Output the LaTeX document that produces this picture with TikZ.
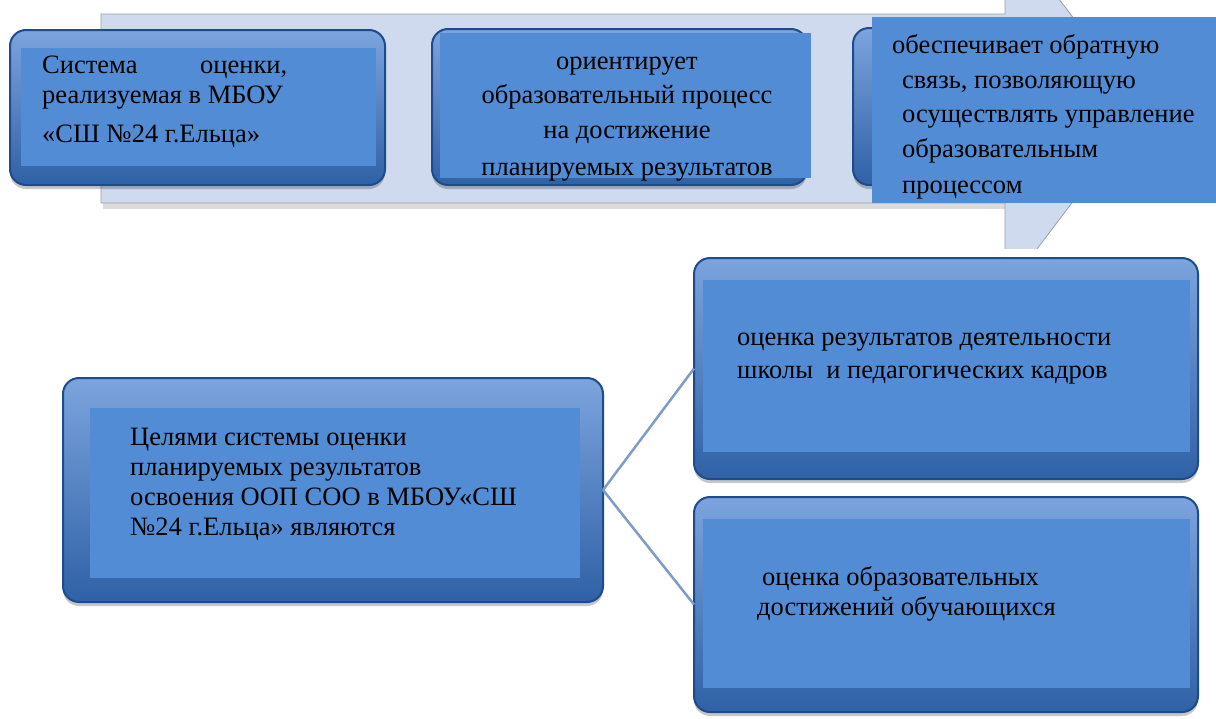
\documentclass[tikz,border=0pt]{standalone}
\usepackage{fontspec}
\setmainfont{Liberation Serif}
\usetikzlibrary{shadows}
\definecolor{boxtop}{HTML}{7CA4DE}
\definecolor{boxbot}{HTML}{2F61A6}
\definecolor{boxborder}{HTML}{1E4B8B}
\definecolor{innerblue}{HTML}{528CD4}
\definecolor{arrowfill}{HTML}{D0DAEE}
\definecolor{arrowdraw}{HTML}{9A9FA8}
\definecolor{connblue}{HTML}{7E9CC8}
\begin{document}
\begin{tikzpicture}[x=1pt,y=-1pt,
  outerbox/.style={rectangle, rounded corners=16pt, draw=boxborder, line width=2pt,
    top color=boxtop, bottom color=boxbot, inner sep=0pt, outer sep=0pt,
    drop shadow={shadow xshift=0pt, shadow yshift=-4pt, opacity=0.22, fill=black}},
  innerbox/.style={rectangle, fill=innerblue, inner sep=0pt, outer sep=0pt},
  txt/.style={inner sep=0pt, font=\rmfamily\fontsize{26.5}{30}\selectfont, text=black},
  conn/.style={draw=connblue, line width=2.5pt}]
\useasboundingbox (0,0) rectangle (1216,718);

% big arrow
\begin{scope}
  \clip (0,0) rectangle (1216,248);
  \fill[black, opacity=0.14] (103,203) rectangle (1005,209);
  \draw[arrowdraw, fill=arrowfill, line width=0.8pt]
    (101,14) -- (1005,14) -- (1005,-72) -- (1143,109.5) -- (1005,291)
    -- (1005,203) -- (101,203) -- cycle;
\end{scope}

% top row boxes
\node[outerbox, minimum width=375pt, minimum height=155pt] (b1) at (197.5,107.5) {};
\node[innerbox, minimum width=355pt, minimum height=118pt] (b1i) at (198.5,107) {};
\node[outerbox, minimum width=375pt, minimum height=156pt] (b2) at (619.5,107) {};
\node[innerbox, minimum width=371pt, minimum height=145pt] (b2i) at (625.5,105.5) {};
\node[outerbox, minimum width=367pt, minimum height=157pt] (b3) at (1036.5,106.5) {};
\node[innerbox, minimum width=344pt, minimum height=186pt] (b3i) at (1044,110) {};

% bottom boxes
\node[outerbox, minimum width=540pt, minimum height=224pt] (ll) at (333,490) {};
\node[innerbox, minimum width=490pt, minimum height=170pt] (lli) at (335,493) {};
\node[outerbox, minimum width=504pt, minimum height=221pt] (tr) at (946,368.5) {};
\node[innerbox, minimum width=487pt, minimum height=172pt] (tri) at (946.5,366) {};
\node[outerbox, minimum width=504pt, minimum height=215pt] (lr) at (946,604.5) {};
\node[innerbox, minimum width=487pt, minimum height=169pt] (lri) at (946.5,603.5) {};

% connectors
\draw[conn] (ll.east) -- (tr.west);
\draw[conn] (ll.east) -- (lr.west);

% texts box 1
\node[txt, anchor=base west] (t1a) at (42,73) {\hbox to 245pt{Система\hfill оценки,}};
\node[txt, anchor=base west] (t1b) at (42,103) {реализуемая в МБОУ};
\node[txt, anchor=base west] (t1c) at (42,142) {«СШ №24 г.Ельца»};
% box 2
\node[txt, anchor=base] (t2a) at (627,69) {ориентирует};
\node[txt, anchor=base] (t2b) at (627,103) {образовательный процесс};
\node[txt, anchor=base] (t2c) at (627,138) {на достижение};
\node[txt, anchor=base] (t2d) at (627,175) {планируемых результатов};
% box 3
\node[txt, anchor=base west] (t3a) at (892,53) {обеспечивает обратную};
\node[txt, anchor=base west] (t3b) at (902,88) {связь, позволяющую};
\node[txt, anchor=base west] (t3c) at (902,122) {осуществлять управление};
\node[txt, anchor=base west] (t3d) at (902,157) {образовательным};
\node[txt, anchor=base west] (t3e) at (902,193) {процессом};
% lower left
\node[txt, anchor=base west] (t4a) at (130,445) {Целями системы оценки};
\node[txt, anchor=base west] (t4b) at (130,475) {планируемых результатов};
\node[txt, anchor=base west] (t4c) at (130,505) {освоения ООП СОО в МБОУ«СШ};
\node[txt, anchor=base west] (t4d) at (130,535) {№24 г.Ельца» являются};
% top right
\node[txt, anchor=base west] (t5a) at (737,345) {оценка результатов деятельности};
\node[txt, anchor=base west] (t5b) at (737,378) {школы\ \ и педагогических кадров};
% lower right
\node[txt, anchor=base west] (t6a) at (762,585) {оценка образовательных};
\node[txt, anchor=base west] (t6b) at (757,615) {достижений обучающихся};
\end{tikzpicture}
\end{document}
